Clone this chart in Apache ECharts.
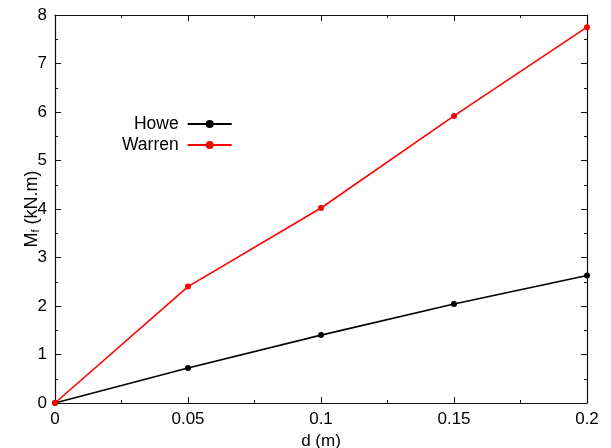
<!DOCTYPE html>
<html><head><meta charset="utf-8">
<script src="https://cdn.jsdelivr.net/npm/echarts@6/dist/echarts.min.js"></script>
<style>html,body{margin:0;padding:0;background:#fff}#c{width:611px;height:448px}</style>
</head><body><div id="c"></div>
<script>
const dValues = [0, 0.05, 0.1, 0.15, 0.2];
const howe = [0, 0.72, 1.40, 2.04, 2.63];
const warren = [0, 2.40, 4.02, 5.92, 7.75];
const xTicks = [0, 0.05, 0.1, 0.15, 0.2];
const yTicks = [0, 1, 2, 3, 4, 5, 6, 7, 8];

const font = 'Liberation Sans, Arial, sans-serif';
const axisLine = {show: true, onZero: false, lineStyle: {color: '#111', width: 1.2}};
const tickMajor = {show: true, inside: true, length: 6, lineStyle: {color: '#111', width: 1}};
const minor = {show: true, splitNumber: 2, length: 3, lineStyle: {color: '#111', width: 1}};
const noLabel = {show: false};
const noSplit = {show: false};

function xAx(pos, extra) {
  return Object.assign({type: 'value', position: pos, min: 0, max: 0.2, interval: 0.05,
    axisLine, axisTick: tickMajor, minorTick: minor, splitLine: noSplit, axisLabel: noLabel}, extra || {});
}
function yAx(pos, extra) {
  return Object.assign({type: 'value', position: pos, min: 0, max: 8, interval: 1,
    axisLine, axisTick: tickMajor, minorTick: minor, splitLine: noSplit, axisLabel: noLabel}, extra || {});
}

const chart = echarts.init(document.getElementById('c'), null, {renderer: 'canvas'});
chart.setOption({
  animation: false,
  grid: {left: 55, right: 24, top: 15, bottom: 45, containLabel: false, outerBoundsMode: 'none'},
  legend: {
    left: 117, top: 110, orient: 'vertical', align: 'right',
    itemWidth: 44, itemHeight: 10, itemGap: 3,
    textStyle: {fontFamily: font, fontSize: 17.5, color: '#000', padding: [0, 4, 0, 0]},
    data: ['Howe', 'Warren']
  },
  xAxis: [
    xAx('bottom', {
      name: 'd (m)', nameLocation: 'middle', nameGap: 28,
      nameTextStyle: {fontFamily: font, fontSize: 17, color: '#000'},
      axisLabel: {fontFamily: font, fontSize: 17, color: '#000', margin: 8,
        formatter: v => { const i = xTicks.findIndex(t => Math.abs(t - v) < 1e-9); return i >= 0 ? String(xTicks[i]) : ''; }}
    }),
    xAx('top')
  ],
  yAxis: [
    yAx('left', {
      name: '{m|M}{s|f}{m| (kN.m)}', nameLocation: 'middle', nameGap: 14, nameRotate: 90,
      nameMoveOverlap: false,
      nameTextStyle: {fontFamily: font, fontSize: 18, color: '#000', rich: {
        m: {fontFamily: font, fontSize: 18, color: '#000'},
        s: {fontFamily: font, fontSize: 11, color: '#000', padding: [7, 0, 0, 0]}
      }},
      axisLabel: {fontFamily: font, fontSize: 17, color: '#000', margin: 8,
        formatter: v => String(yTicks.includes(v) ? v : '')}
    }),
    yAx('right')
  ],
  series: [{
    name: 'Howe', type: 'line', data: dValues.map((d, i) => [d, howe[i]]),
    symbol: 'circle', symbolSize: 6, itemStyle: {color: '#000'}, lineStyle: {color: '#000', width: 1.6},
    clip: false
  }, {
    name: 'Warren', type: 'line', data: dValues.map((d, i) => [d, warren[i]]),
    symbol: 'circle', symbolSize: 6, itemStyle: {color: '#ff0000'}, lineStyle: {color: '#ff0000', width: 1.6},
    clip: false
  }]
});
</script></body></html>
